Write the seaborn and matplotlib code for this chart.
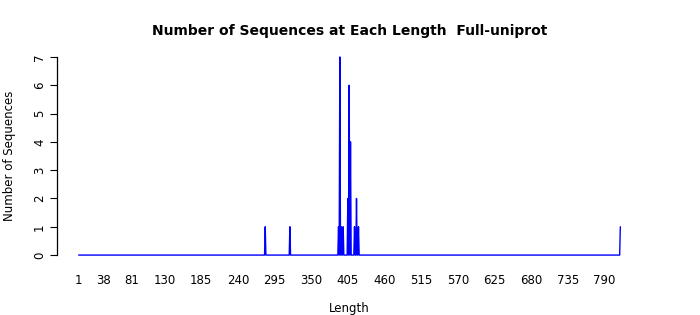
import numpy as np
import pandas as pd
import matplotlib
matplotlib.use("Agg")
import matplotlib.pyplot as plt
import seaborn as sns

# Observed lengths and their counts (all other lengths have 0 sequences)
lengths = [281, 318, 391, 393, 395, 398, 405, 407, 409, 415, 418, 421, 814]
counts = [1, 1, 1, 7, 1, 1, 2, 6, 4, 1, 2, 1, 1]
max_length = 814
xtick_values = [1, 38, 81, 130, 185, 240, 295, 350, 405, 460, 515, 570, 625, 680, 735, 790]
ytick_values = [0, 1, 2, 3, 4, 5, 6, 7]

all_len = np.arange(1, max_length + 1)
all_cnt = np.zeros_like(all_len)
for L, c in zip(lengths, counts):
    all_cnt[L - 1] = c
df = pd.DataFrame({"Length": all_len, "Count": all_cnt})

sns.set_style("white")
plt.rcParams['font.family'] = ['DejaVu Sans']
plt.rcParams['text.color'] = 'black'
plt.rcParams['axes.labelcolor'] = 'black'
plt.rcParams['xtick.color'] = 'black'
plt.rcParams['ytick.color'] = 'black'

fig = plt.figure(figsize=(7, 3.15), dpi=100)
ax = fig.add_axes([57 / 700, 1 - 263 / 315, (642 - 57) / 700, (263 - 49) / 315])

sns.lineplot(data=df, x="Length", y="Count", color="#0000FF", linewidth=1.0, ax=ax)

xspan = max_length - 1
ax.set_xlim(1 - 0.04 * xspan, max_length + 0.04 * xspan)
ax.set_ylim(-0.04 * 7, 7 + 0.04 * 7)

for s in ["top", "right", "bottom"]:
    ax.spines[s].set_visible(False)
ax.spines["left"].set_bounds(0, 7)
ax.spines["left"].set_color("black")
ax.spines["left"].set_linewidth(0.9)

ax.set_xticks(xtick_values)
ax.set_xticklabels([str(v) for v in xtick_values], fontsize=8.5, color="black")
ax.tick_params(axis="x", length=0, pad=8)
ax.set_yticks(ytick_values)
ax.set_yticklabels([str(v) for v in ytick_values], fontsize=8.5, rotation=90,
                   va="center", color="black")
ax.tick_params(axis="y", length=5, width=0.8, left=True, pad=3, color="black")

ax.set_xlabel("Length", fontsize=8.5, labelpad=11, color="black")
ax.set_ylabel("Number of Sequences", fontsize=8.5, color="black")
ax.yaxis.set_label_coords(-0.07, 0.5)
ax.set_title("Number of Sequences at Each Length  Full-uniprot", fontsize=10,
             fontweight="bold", pad=10, color="black")
ax.grid(False)

fig.savefig("out.png", dpi=100)
